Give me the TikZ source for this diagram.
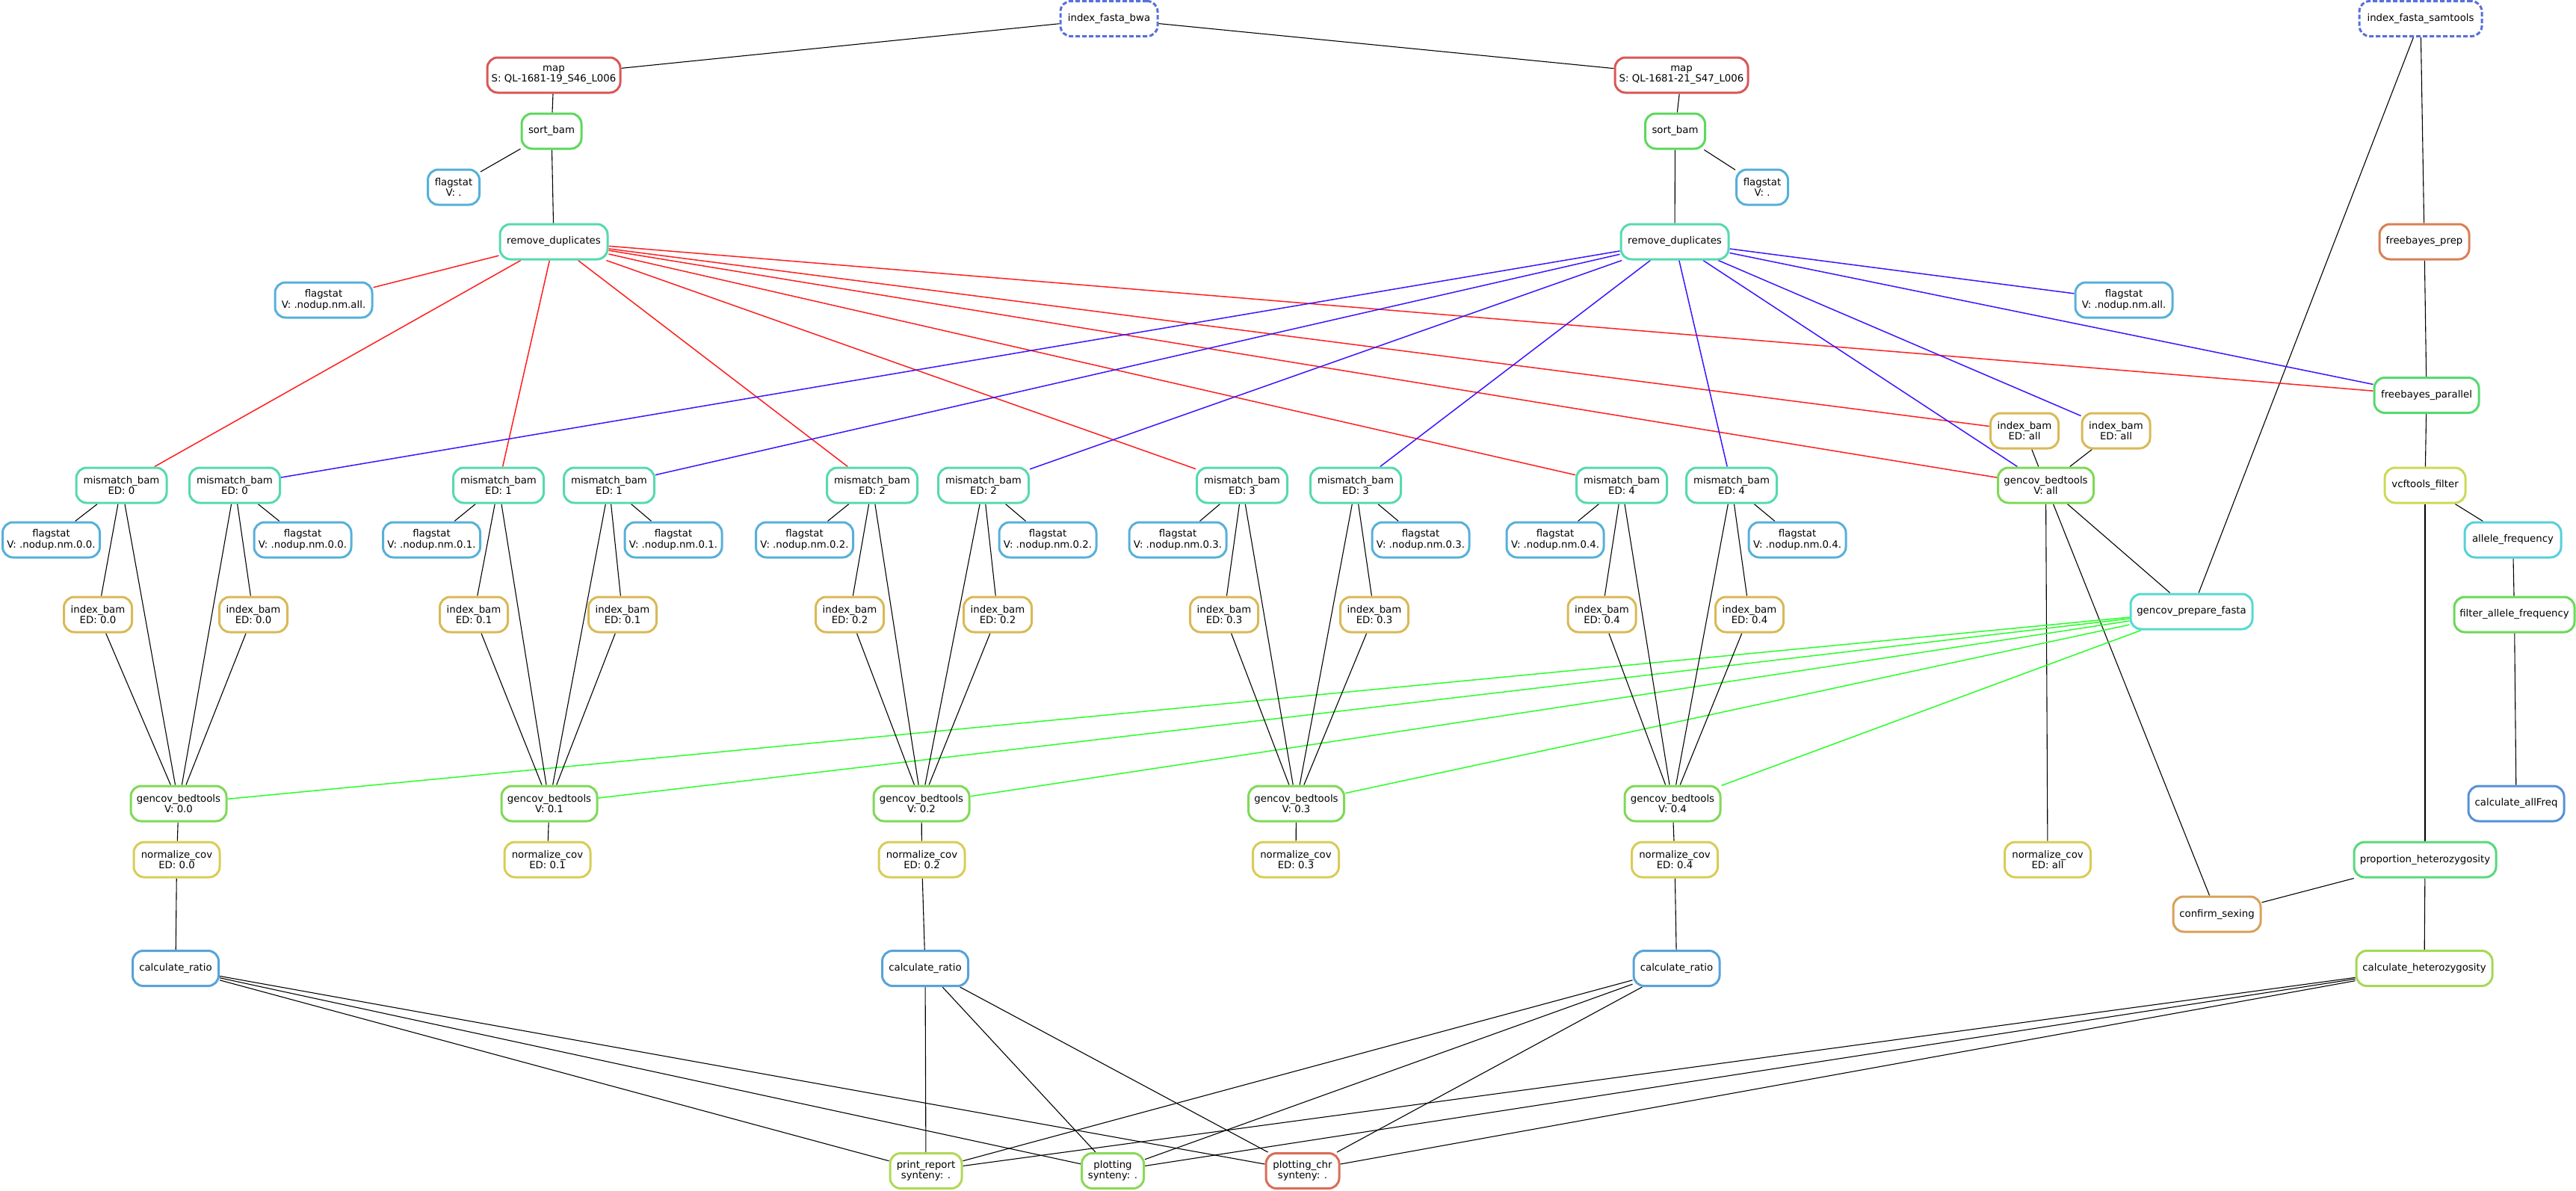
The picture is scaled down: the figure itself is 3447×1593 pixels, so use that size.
\documentclass[tikz,border=0pt]{standalone}
\usepackage{fontspec}
\setmainfont{DejaVu Sans}
\usetikzlibrary{backgrounds}

\definecolor{cmap}{HTML}{D95757}
\definecolor{csort}{HTML}{5CD95C}
\definecolor{cflag}{HTML}{57B0D9}
\definecolor{cdup}{HTML}{57D9B0}
\definecolor{cibam}{HTML}{D9B957}
\definecolor{cgcov}{HTML}{7FD957}
\definecolor{cnorm}{HTML}{D9CC57}
\definecolor{cratio}{HTML}{57A3D9}
\definecolor{cidx}{HTML}{5770D9}
\definecolor{cfbprep}{HTML}{D98057}
\definecolor{cfbpar}{HTML}{57D970}
\definecolor{cvcf}{HTML}{CCD957}
\definecolor{callele}{HTML}{57D0D9}
\definecolor{cfilt}{HTML}{6AD957}
\definecolor{callfreq}{HTML}{5790D9}
\definecolor{cprep}{HTML}{57D9D0}
\definecolor{cprop}{HTML}{57D97A}
\definecolor{csex}{HTML}{D9A057}
\definecolor{chet}{HTML}{A3D957}
\definecolor{creport}{HTML}{B0D957}
\definecolor{cplot}{HTML}{8AD957}
\definecolor{cplotchr}{HTML}{D96D57}
\definecolor{ered}{RGB}{255,30,30}
\definecolor{eblue}{RGB}{60,20,255}
\definecolor{egreen}{RGB}{40,255,40}

\tikzset{
  job/.style={draw, line width=3pt, rounded corners=14pt, fill=white, align=center,
    inner xsep=1pt, inner ysep=0pt, minimum height=47pt, font=\fontsize{13.3}{14.6}\selectfont},
  idxjob/.style={job, draw=cidx, dash pattern=on 6pt off 3pt},
  dep/.style={line width=1.1pt},
  redline/.style={line width=1.5pt, ered},
  blueline/.style={line width=1.5pt, eblue},
  greenline/.style={line width=1.5pt, egreen}
}

\begin{document}
\begin{tikzpicture}[x=1pt,y=-1pt]
\useasboundingbox (0,0) rectangle (3447,1593);

\node[idxjob, minimum width=130] (bwa) at (1484,25) {index\_fasta\_bwa};
\node[idxjob, minimum width=164] (sam) at (3239,25) {index\_fasta\_samtools};

\node[job, draw=cmap, minimum width=178] (mapA) at (741,100.5) {map\\S: QL-1681-19\_S46\_L006};
\node[job, draw=cmap, minimum width=178] (mapB) at (2250,100.5) {map\\S: QL-1681-21\_S47\_L006};
\node[job, draw=csort, minimum width=80] (sortA) at (738,175.5) {sort\_bam};
\node[job, draw=csort, minimum width=80] (sortB) at (2241.5,175.5) {sort\_bam};
\node[job, draw=cflag, minimum width=69] (fsA) at (607,250.5) {flagstat\\V: .};
\node[job, draw=cflag, minimum width=69] (fsB) at (2358,250.5) {flagstat\\V: .};
\node[job, draw=cdup, minimum width=144] (rdA) at (741,323.5) {remove\_duplicates};
\node[job, draw=cdup, minimum width=144] (rdB) at (2241,323.5) {remove\_duplicates};
\node[job, draw=cflag, minimum width=130] (fsallA) at (433,401.5) {flagstat\\V: .nodup.nm.all.};
\node[job, draw=cflag, minimum width=130] (fsallB) at (2842,401.5) {flagstat\\V: .nodup.nm.all.};

\node[job, draw=cfbprep, minimum width=120] (fbprep) at (3244,323.5) {freebayes\_prep};
\node[job, draw=cfbpar, minimum width=140] (fbpar) at (3247,529) {freebayes\_parallel};
\node[job, draw=cvcf, minimum width=108] (vcf) at (3245,649.5) {vcftools\_filter};
\node[job, draw=callele, minimum width=129] (allele) at (3362.5,722.5) {allele\_frequency};
\node[job, draw=cfilt, minimum width=161] (filt) at (3364.5,822.5) {filter\_allele\_frequency};
\node[job, draw=callfreq, minimum width=128] (allfreq) at (3367,1075.5) {calculate\_allFreq};

\node[job, draw=cibam, minimum width=91] (ibAllA) at (2709,576.5) {index\_bam\\ED: all};
\node[job, draw=cibam, minimum width=91] (ibAllB) at (2831.5,576.5) {index\_bam\\ED: all};
\node[job, draw=cgcov, minimum width=128] (gcAll) at (2737.5,649.5) {gencov\_bedtools\\V: all};
\node[job, draw=cprep, minimum width=163] (gcprep) at (2932.5,818.5) {gencov\_prepare\_fasta};
\node[job, draw=cnorm, minimum width=115] (ncAll) at (2740,1150.5) {normalize\_cov\\ED: all};
\node[job, draw=cprop, minimum width=190] (prophet) at (3245,1150.5) {proportion\_heterozygosity};
\node[job, draw=csex, minimum width=117] (sexing) at (2966.5,1223.5) {confirm\_sexing};
\node[job, draw=chet, minimum width=182] (calchet) at (3244,1296) {calculate\_heterozygosity};

\foreach \s/\i/\x in {A/0/162.5,B/0/314,A/1/667,B/1/815,A/2/1167,B/2/1316,A/3/1662,B/3/1814,A/4/2170,B/4/2317}
  \node[job, draw=cdup, minimum width=121] (mm\s\i) at (\x,649.5) {mismatch\_bam\\ED: \i};
\foreach \s/\i/\x in {A/0/68.5,B/0/405,A/1/577.5,B/1/901,A/2/1076.5,B/2/1402,A/3/1576,B/3/1901,A/4/2081,B/4/2405}
  \node[job, draw=cflag, minimum width=130] (fs\s\i) at (\x,722.5) {flagstat\\V: .nodup.nm.0.\i.};
\foreach \s/\i/\x in {A/0/131,B/0/339,A/1/634,B/1/833,A/2/1137,B/2/1335,A/3/1638,B/3/1839,A/4/2143.5,B/4/2341}
  \node[job, draw=cibam, minimum width=91] (ib\s\i) at (\x,822.5) {index\_bam\\ED: 0.\i};
\foreach \i/\x in {0/239,1/735,2/1233,3/1734.5,4/2238}
  \node[job, draw=cgcov, minimum width=128] (gc\i) at (\x,1075.5) {gencov\_bedtools\\V: 0.\i};
\foreach \i/\x in {0/236.5,1/732.5,2/1233.5,3/1734,4/2241}
  \node[job, draw=cnorm, minimum width=115] (nc\i) at (\x,1150.5) {normalize\_cov\\ED: 0.\i};
\foreach \i/\x in {0/235,2/1238,4/2243.5}
  \node[job, draw=cratio, minimum width=115] (cr\i) at (\x,1296) {calculate\_ratio};

\node[job, draw=creport, minimum width=96] (report) at (1239,1567) {print\_report\\synteny: .};
\node[job, draw=cplot, minimum width=83] (plot) at (1489,1567) {plotting\\synteny: .};
\node[job, draw=cplotchr, minimum width=98] (plotchr) at (1743,1567) {plotting\_chr\\synteny: .};

\begin{pgfonlayer}{background}
\draw[dep] (bwa) -- (mapA);
\draw[dep] (bwa) -- (mapB);
\draw[dep] (mapA) -- (sortA);
\draw[dep] (mapB) -- (sortB);
\draw[dep] (sortA) -- (fsA);
\draw[dep] (sortB) -- (fsB);
\draw[dep] (sortA) -- (rdA);
\draw[dep] (sortB) -- (rdB);
\draw[dep] (sam) -- (fbprep);
\draw[dep] (sam) -- (gcprep);
\draw[dep] (fbprep) -- (fbpar);
\draw[dep] (fbpar) -- (vcf);
\draw[dep] (vcf) -- (allele);
\draw[dep] (vcf) -- (prophet);
\draw[dep] (allele) -- (filt);
\draw[dep] (filt) -- (allfreq);
\draw[dep] (ibAllA) -- (gcAll);
\draw[dep] (ibAllB) -- (gcAll);
\draw[dep] (gcAll) -- (gcprep);
\draw[dep] (gcAll) -- (ncAll);
\draw[dep] (gcAll) -- (sexing);
\draw[dep] (prophet) -- (sexing);
\draw[dep] (prophet) -- (calchet);

\foreach \t in {fsallA,mmA0,mmA1,mmA2,mmA3,mmA4,gcAll,ibAllA,fbpar}
  \draw[redline] (rdA) -- (\t);
\foreach \t in {fsallB,mmB0,mmB1,mmB2,mmB3,mmB4,gcAll,ibAllB,fbpar}
  \draw[blueline] (rdB) -- (\t);
\foreach \i in {0,...,4}
  \draw[greenline] (gcprep) -- (gc\i);

\foreach \s in {A,B}
  \foreach \i in {0,...,4} {
    \draw[dep] (mm\s\i) -- (fs\s\i);
    \draw[dep] (mm\s\i) -- (ib\s\i);
    \draw[dep] (mm\s\i) -- (gc\i);
    \draw[dep] (ib\s\i) -- (gc\i);
  }
\foreach \i in {0,...,4}
  \draw[dep] (gc\i) -- (nc\i);
\foreach \i in {0,2,4}
  \draw[dep] (nc\i) -- (cr\i);

\foreach \f in {cr0,cr2,cr4,calchet}
  \foreach \t in {report,plot,plotchr}
    \draw[dep] (\f) -- (\t);
\end{pgfonlayer}
\end{tikzpicture}
\end{document}
